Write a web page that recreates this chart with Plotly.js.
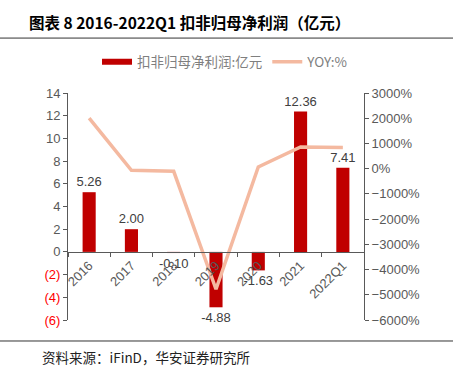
<!DOCTYPE html>
<html>
<head>
<meta charset="utf-8">
<script src="https://cdn.plot.ly/plotly-3.0.1.min.js"></script>
<style>html,body{margin:0;padding:0;background:#fff;}#chart{width:459px;height:374px;}</style>
</head>
<body>
<div id="chart"></div>
<script>
const categories = ['2016', '2017', '2018', '2019', '2020', '2021', '2022Q1'];
const netProfit = [5.26, 2.00, -0.10, -4.88, -1.63, 12.36, 7.41];
const yoy = [2000, -62, -105, -4780, 67, 858, 840];
const leftTickVals = [-6, -4, -2, 0, 2, 4, 6, 8, 10, 12, 14];
const leftTickText = ['(6)', '(4)', '(2)', '0', '2', '4', '6', '8', '10', '12', '14'];
const barName = '扣非归母净利润:亿元';
const lineName = 'YOY:%';

const gray = '#595959';
const barColor = '#C00000';
const lineColor = '#F4B9A0';
const cjk = '"Noto Sans CJK SC", "Liberation Sans", Arial, sans-serif';
const num = '"Liberation Sans", Arial, sans-serif';

const styledLeft = leftTickText.map((t, i) => leftTickVals[i] < 0 ? '<span style="fill:#FF0000">' + t + '</span>' : t);

const traces = [
  {
    type: 'bar', name: barName, x: categories, y: netProfit,
    xaxis: 'x', yaxis: 'y', showlegend: false, legendgroup: 'bar',
    marker: {color: barColor}, width: 0.31,
    texttemplate: '%{y:.2f}', textposition: 'outside', constraintext: 'none',
    textfont: {family: num, size: 13, color: '#404040'}, cliponaxis: false
  },
  {
    // legend swatch only (wide bar-coloured strip, as in the reference legend)
    type: 'scatter', mode: 'lines', name: barName, x: [null], y: [null],
    xaxis: 'x', yaxis: 'y', legendgroup: 'bar', hoverinfo: 'skip',
    line: {color: barColor, width: 6}
  },
  {
    type: 'scatter', mode: 'lines', name: lineName, x: categories, y: yoy,
    xaxis: 'x', yaxis: 'y2',
    line: {color: lineColor, width: 3.5}
  }
];

const layout = {
  width: 459, height: 374,
  margin: {l: 68, r: 95, t: 93, b: 54},
  paper_bgcolor: '#fff', plot_bgcolor: '#fff',
  font: {family: num, size: 13, color: gray},
  showlegend: true,
  legend: {orientation: 'h', x: 0.098, xanchor: 'left', y: 1.137, yanchor: 'middle',
           font: {family: cjk, size: 13.5, color: '#7f7f7f'}, traceorder: 'normal'},
  xaxis: {
    type: 'category', anchor: 'free', position: 0.3,
    showline: true, linecolor: gray, linewidth: 1,
    ticks: 'outside', ticklen: 4, tickcolor: gray, tickson: 'boundaries',
    tickangle: -45, tickfont: {family: num, size: 13, color: gray},
    showgrid: false, zeroline: false
  },
  yaxis: {
    range: [-6, 14], tickvals: leftTickVals, ticktext: styledLeft,
    showline: true, linecolor: gray, ticks: 'outside', ticklen: 4, tickcolor: gray,
    showgrid: false, zeroline: false, tickfont: {family: num, size: 13, color: gray}
  },
  yaxis2: {
    overlaying: 'y', side: 'right', range: [-6000, 3000], dtick: 1000, ticksuffix: '%',
    showline: true, linecolor: gray, ticks: 'outside', ticklen: 4, tickcolor: gray,
    showgrid: false, zeroline: false, tickfont: {family: num, size: 13, color: gray}
  },
  shapes: [
    {type: 'line', xref: 'paper', yref: 'paper', x0: -0.2297, x1: 1.3007, y0: 1.242, y1: 1.242,
     line: {color: '#333', width: 1}},
    {type: 'line', xref: 'paper', yref: 'paper', x0: -0.2297, x1: 1.3007, y0: -0.0925, y1: -0.0925,
     line: {color: '#333', width: 1}}
  ],
  annotations: [
    {xref: 'paper', yref: 'paper', x: -0.1385, y: 1.313, xanchor: 'left', yanchor: 'middle', showarrow: false,
     text: '<b>图表 8 2016-2022Q1 扣非归母净利润（亿元）</b>', font: {family: cjk, size: 15.5, color: '#000'}},
    {xref: 'paper', yref: 'paper', x: -0.0946, y: -0.163, xanchor: 'left', yanchor: 'middle', showarrow: false,
     text: '资料来源：iFinD，华安证券研究所', font: {family: cjk, size: 13.5, color: '#222'}}
  ]
};

Plotly.newPlot('chart', traces, layout, {displayModeBar: false, staticPlot: true});
</script>
</body>
</html>
